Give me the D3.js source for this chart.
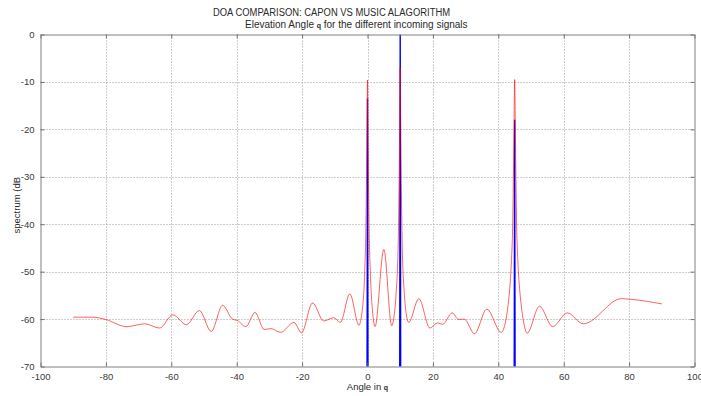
<!DOCTYPE html>
<html>
<head>
<meta charset="utf-8">
<script src="https://cdn.jsdelivr.net/npm/d3@7"></script>
<style>
  body { margin: 0; background: #fff; }
  svg { display: block; font-family: "Liberation Sans", Arial, Helvetica, sans-serif; }
</style>
</head>
<body>
<svg id="chart" width="701" height="396"></svg>
<script>
// Axis ticks
const xTicks = [-100, -80, -60, -40, -20, 0, 20, 40, 60, 80, 100];
const yTicks = [-70, -60, -50, -40, -30, -20, -10, 0];

// Capon spectrum (dB) versus angle (degrees)
const caponAngles = [
  -90, -84, -80, -73.7, -68.1, -63.6, -59.5, -55.4, -51.4, -47.8,
  -44.3, -41.3, -39.8, -37.2, -34.4, -31.6, -29.6, -26.6, -22.5, -20.2,
  -16.8, -13.4, -10.3, -8.3, -5.4, -2.6, -2.0, -1.5, -1.1, -0.8,
  -0.5, -0.3, -0.1, 0, 0.1, 0.3, 0.5, 0.8, 1.1, 1.5,
  2.3, 5.0, 7.4, 8.0, 8.5, 8.9, 9.2, 9.5, 9.7, 9.9,
  10, 10.1, 10.3, 10.5, 10.8, 11.1, 11.6, 12.6, 15.7, 19.1,
  21.4, 23.0, 25.9, 27.9, 29.6, 32.7, 36.5, 40.9, 42, 43,
  43.5, 44, 44.4, 44.6, 44.8, 45, 45.2, 45.4, 45.6, 46,
  46.5, 47, 48, 48.8, 52.6, 56.6, 61.1, 66.0, 77.7, 80,
  90
];
const caponDb = [
  -59.6, -59.6, -60.1, -61.6, -61.0, -61.9, -59.1, -61.2, -58.2, -62.6,
  -57.1, -60.0, -60.3, -61.6, -58.6, -62.2, -62.0, -62.8, -60.7, -62.9,
  -56.6, -60.4, -59.7, -60.7, -54.7, -61.3, -60.0, -57.5, -54.0, -49.0,
  -41.0, -30.0, -16.0, -9.6, -16.0, -30.0, -41.0, -49.0, -54.0, -58.0,
  -61.6, -45.3, -61.4, -60.0, -57.0, -53.0, -49.0, -40.0, -29.0, -14.0,
  -7.0, -14.0, -29.0, -40.0, -49.0, -53.0, -57.5, -60.7, -55.7, -61.9,
  -60.8, -61.1, -58.7, -60.1, -60.0, -63.1, -57.9, -62.8, -61.2, -57.0,
  -53.5, -48.0, -40.0, -31.0, -19.0, -9.5, -19.0, -31.0, -40.0, -48.0,
  -53.5, -57.0, -61.5, -63.0, -57.3, -61.6, -58.7, -61.0, -55.7, -55.8,
  -56.8
];

// MUSIC pseudo-spectrum (dB) versus angle (degrees)
const musicAngles = [-90, -0.2, -0.05, 0, 0.05, 0.2, 9.8, 9.95, 10, 10.05, 10.2, 44.8, 44.95, 45, 45.05, 45.2, 90];
const musicDb     = [-95, -95, -40, -13.5, -40, -95, -95, -30, 3, -30, -95, -95, -40, -18, -40, -95, -95];

const svg = d3.select("#chart");
const mLeft = 40.5, mRight = 694.5, mTop = 34.5, mBottom = 366.5;

const x = d3.scaleLinear().domain([-100, 100]).range([mLeft, mRight]);
const y = d3.scaleLinear().domain([-70, 0]).range([mBottom, mTop]);

// Dotted grid
const grid = svg.append("g").attr("stroke", "#9a9a9a").attr("stroke-width", 1)
  .attr("stroke-dasharray", "1,2");
grid.selectAll("line.vx").data(xTicks.slice(1, -1)).join("line")
  .attr("x1", d => Math.round(x(d)) + 0.5).attr("x2", d => Math.round(x(d)) + 0.5)
  .attr("y1", mTop).attr("y2", mBottom);
grid.selectAll("line.hy").data(yTicks.slice(1, -1)).join("line")
  .attr("y1", d => Math.round(y(d)) + 0.5).attr("y2", d => Math.round(y(d)) + 0.5)
  .attr("x1", mLeft).attr("x2", mRight);

// Data lines, clipped to the plot box
svg.append("clipPath").attr("id", "plotClip")
  .append("rect").attr("x", mLeft).attr("y", mTop).attr("width", mRight - mLeft).attr("height", mBottom - mTop);

const music = musicAngles.map((a, i) => [a, musicDb[i]]);
const capon = caponAngles.map((a, i) => [a, caponDb[i]]);

const plot = svg.append("g").attr("clip-path", "url(#plotClip)");
plot.append("path").datum(music)
  .attr("fill", "none").attr("stroke", "#0000ff").attr("stroke-width", 1.4)
  .attr("d", d3.line().x(d => x(d[0])).y(d => y(d[1])));
plot.append("path").datum(capon)
  .attr("fill", "none").attr("stroke", "#ff0000").attr("stroke-opacity", 0.62).attr("stroke-width", 1)
  .attr("d", d3.line().curve(d3.curveMonotoneX).x(d => x(d[0])).y(d => y(d[1])));

// Axes: box with inward ticks on all four sides
const plain = d => String(d);
const axisG = svg.append("g");
const xBottom = d3.axisBottom(x).tickValues(xTicks).tickSizeInner(-4).tickSizeOuter(0).tickPadding(7).tickFormat(plain);
const xTop = d3.axisTop(x).tickValues(xTicks).tickSizeInner(-4).tickSizeOuter(0).tickFormat("");
const yLeft = d3.axisLeft(y).tickValues(yTicks).tickSizeInner(-4).tickSizeOuter(0).tickPadding(6).tickFormat(plain);
const yRight = d3.axisRight(y).tickValues(yTicks).tickSizeInner(-4).tickSizeOuter(0).tickFormat("");

function styleAxis(g) {
  g.select(".domain").attr("stroke", "#808080");
  g.selectAll(".tick line").attr("stroke", "#707070");
  g.selectAll(".tick text").attr("fill", "#3a3a3a").attr("font-size", "9.5px")
    .attr("font-family", "Liberation Sans, Arial, sans-serif");
}
axisG.append("g").attr("transform", `translate(0,${mBottom})`).call(xBottom).call(styleAxis);
axisG.append("g").attr("transform", `translate(0,${mTop})`).call(xTop).call(styleAxis);
axisG.append("g").attr("transform", `translate(${mLeft},0)`).call(yLeft).call(styleAxis);
axisG.append("g").attr("transform", `translate(${mRight},0)`).call(yRight).call(styleAxis);

// Titles and axis labels
const textCol = "#2a2a2a";
svg.append("text").attr("x", 213).attr("y", 16).attr("font-size", "10px").attr("fill", textCol)
  .attr("textLength", 237).attr("lengthAdjust", "spacingAndGlyphs")
  .text("DOA COMPARISON: CAPON VS MUSIC ALAGORITHM");
const t2 = svg.append("text").attr("x", 245).attr("y", 28).attr("font-size", "10px").attr("fill", textCol);
t2.append("tspan").text("Elevation Angle ");
t2.append("tspan").attr("font-size", "7px").attr("font-weight", "bold").text("q");
t2.append("tspan").text(" for the different incoming signals");

const xl = svg.append("text").attr("x", x(0)).attr("y", 390).attr("text-anchor", "middle")
  .attr("font-size", "9.5px").attr("fill", textCol);
xl.append("tspan").text("Angle in ");
xl.append("tspan").attr("font-size", "7px").attr("font-weight", "bold").text("q");

svg.append("text").attr("transform", `translate(20,${y(-36)}) rotate(-90)`)
  .attr("text-anchor", "middle").attr("font-size", "9.5px").attr("fill", textCol)
  .text("spectrum (dB");
</script>
</body>
</html>
